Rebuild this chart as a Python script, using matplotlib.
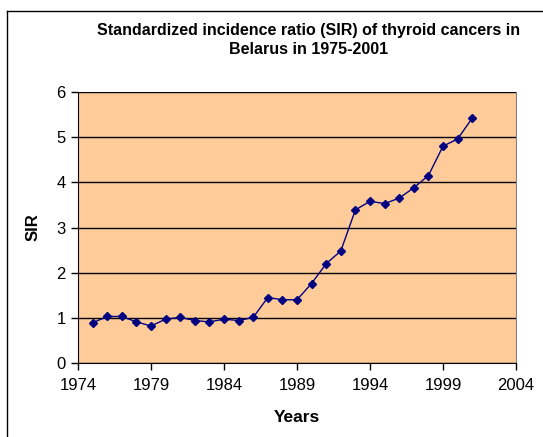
import matplotlib.pyplot as plt
from matplotlib.lines import Line2D

years = list(range(1975, 2002))
sir = [0.89, 1.03, 1.03, 0.91, 0.82, 0.97, 1.01, 0.94, 0.91, 0.97, 0.94, 1.01,
       1.45, 1.40, 1.40, 1.76, 2.20, 2.48, 3.39, 3.58, 3.53, 3.65, 3.88, 4.15,
       4.80, 4.96, 5.42]
xticks = [1974, 1979, 1984, 1989, 1994, 1999, 2004]
yticks = [0, 1, 2, 3, 4, 5, 6]

plt.rcParams['font.family'] = ['Liberation Sans', 'DejaVu Sans']

fig = plt.figure(figsize=(5.43, 4.37), dpi=100)
ax = fig.add_axes([78 / 543, 1 - 363 / 437, (516 - 78) / 543, (363 - 92) / 437])
ax.set_facecolor('#FFCC99')

ax.plot(years, sir, color='#000080', marker='D', markersize=4.5, linewidth=1)

ax.set_xlim(1974, 2004)
ax.set_ylim(0, 6)
ax.set_xticks(xticks)
ax.set_yticks(yticks)
ax.yaxis.grid(True, color='black', linewidth=1)
ax.set_axisbelow(True)
ax.tick_params(labelsize=12, length=5, width=1, color='black')
ax.tick_params(axis='x', pad=6)
ax.tick_params(axis='y', pad=4)

ax.spines['top'].set_visible(False)
ax.spines['right'].set_color('#808080')
ax.spines['left'].set_color('black')
ax.spines['bottom'].set_color('black')

ax.set_xlabel('Years', fontsize=12.5, fontweight='bold', labelpad=12)
ax.set_ylabel('SIR', fontsize=12, fontweight='bold', labelpad=11)

fig.text(0.568, 1 - 40 / 437,
         'Standardized incidence ratio (SIR) of thyroid cancers in\nBelarus in 1975-2001',
         ha='center', va='center', fontsize=11.5, fontweight='bold', linespacing=1.35)

# chart border
fig.add_artist(Line2D([7 / 543, 7 / 543], [0, 1 - 11 / 437], color='black', linewidth=1))
fig.add_artist(Line2D([7 / 543, 1], [1 - 11 / 437, 1 - 11 / 437], color='black', linewidth=1))

fig.savefig('out.png', dpi=100)
